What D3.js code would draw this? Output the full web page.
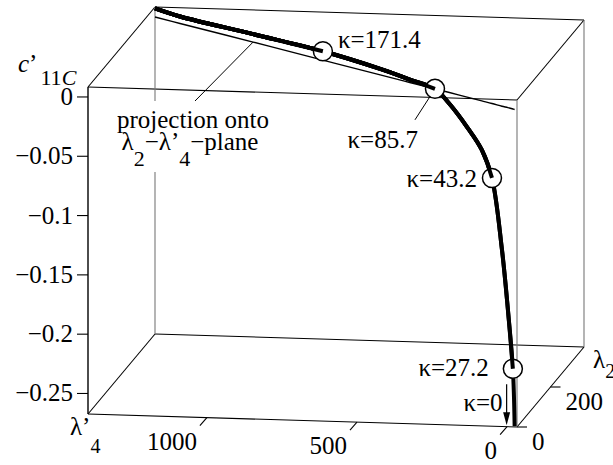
<!DOCTYPE html>
<html>
<head>
<meta charset="utf-8">
<script src="https://cdn.jsdelivr.net/npm/d3@7"></script>
<style>
  body { margin: 0; background: #fff; }
</style>
</head>
<body>
<div id="chart"></div>
<script>
// curve samples, from the top-left corner (large kappa) down to kappa = 0
const lam4 = [1396, 1297, 1009, 733, 507, 390, 291, 234, 164, 106, 66, 26, 3, -17, -24];
const lam2 = [400, 372, 292, 214, 151, 118, 91, 75, 55, 39, 28, 16, 10, 4, 2];
const c11C = [0.0072, 0.0059, 0.0067, 0.0075, 0.005, 0.0025, 0, -0.0095, -0.0252, -0.0413, -0.0628, -0.121, -0.170, -0.219, -0.267];

// marked points on the curve (index into the samples above), low kappa first
const markKappa = [27.2, 43.2, 85.7, 171.4];
const markIdx = [13, 10, 6, 3];
const planeC = 0; // projection onto the lambda2-lambda'4 plane at c'11C = 0

const cTicks = [0, -0.05, -0.1, -0.15, -0.2, -0.25];
const lam4Ticks = [1000, 500, 0];
const lam2Ticks = [0, 200];

const width = 613, height = 465;
const fs = 25;
const svg = d3.select('#chart').append('svg')
    .attr('width', width)
    .attr('height', height)
    .attr('font-family', 'Liberation Serif, Times New Roman, Times, DejaVu Serif, serif');

/* box ranges, mapped to 0..1 */
const uScale = d3.scaleLinear().domain([1396, -33]).range([0, 1]);
const vScale = d3.scaleLinear().domain([0, 400]).range([0, 1]);
const wScale = d3.scaleLinear().domain([-0.2673, 0.0084]).range([0, 1]);

/* oblique view of the box */
const O = [88, 414], EU = [429, 13], EV = [67, -80], EW = [0, -327];
function proj(l4, l2, c) {
    const u = uScale(l4), v = vScale(l2), w = wScale(c);
    return [O[0] + EU[0] * u + EV[0] * v + EW[0] * w,
            O[1] + EU[1] * u + EV[1] * v + EW[1] * w];
}
const D4 = uScale.domain(), D2 = vScale.domain(), DC = wScale.domain();
const corner = (a, b, c) => proj(D4[a], D2[b], DC[c]);

/* box edges */
const edges = [
    [[0,0,0],[1,0,0],'#000'], [[0,0,1],[1,0,1],'#000'],
    [[0,1,0],[1,1,0],'#000'], [[0,1,1],[1,1,1],'#000'],
    [[0,0,0],[0,1,0],'#000'], [[0,0,1],[0,1,1],'#000'],
    [[1,0,0],[1,1,0],'#000'], [[1,0,1],[1,1,1],'#000'],
    [[0,0,0],[0,0,1],'#000'], [[1,0,0],[1,0,1],'#777'],
    [[0,1,0],[0,1,1],'#777'], [[1,1,0],[1,1,1],'#777']
];
svg.append('g').selectAll('line')
    .data(edges)
    .join('line')
    .attr('x1', d => corner(...d[0])[0])
    .attr('y1', d => corner(...d[0])[1])
    .attr('x2', d => corner(...d[1])[0])
    .attr('y2', d => corner(...d[1])[1])
    .attr('stroke', d => d[2])
    .attr('stroke-width', (d, i) => i === 8 ? 1.4 : 1.1);

/* c'11C ticks on the front-left edge */
const gc = svg.append('g');
cTicks.forEach(t => {
    const p = proj(D4[0], D2[0], t);
    gc.append('line')
        .attr('x1', p[0] - 11).attr('y1', p[1])
        .attr('x2', p[0]).attr('y2', p[1])
        .attr('stroke', '#000').attr('stroke-width', 1.1);
    gc.append('text')
        .attr('x', p[0] - 15).attr('y', p[1] + 8)
        .attr('text-anchor', 'end')
        .attr('font-size', fs)
        .text(t === 0 ? '0' : d3.format('')(t).replace('-', '\u2212'));
});

/* lambda'4 ticks on the front-bottom edge */
const g4 = svg.append('g');
lam4Ticks.forEach(t => {
    const p = proj(t, D2[0], DC[0]);
    g4.append('line')
        .attr('x1', p[0]).attr('y1', p[1])
        .attr('x2', p[0] - 7).attr('y2', p[1] + 8)
        .attr('stroke', '#000').attr('stroke-width', 1.1);
    g4.append('text')
        .attr('x', p[0] - 10).attr('y', p[1] + 32)
        .attr('text-anchor', 'end')
        .attr('font-size', fs)
        .text(t);
});

/* lambda2 ticks on the right-bottom depth edge */
const g2 = svg.append('g');
lam2Ticks.forEach(t => {
    const p = proj(D4[1], t, DC[0]);
    g2.append('line')
        .attr('x1', p[0]).attr('y1', p[1])
        .attr('x2', p[0] + 10).attr('y2', p[1])
        .attr('stroke', '#000').attr('stroke-width', 1.1);
    g2.append('text')
        .attr('x', p[0] + 15).attr('y', p[1] + 23)
        .attr('font-size', fs)
        .text(t);
});

/* axis titles */
const tc = svg.append('text').attr('x', 18).attr('y', 72).attr('font-size', fs);
tc.append('tspan').attr('font-style', 'italic').text('c');
tc.append('tspan').text('\u2019');
tc.append('tspan').attr('dx', 3).attr('dy', 13).attr('font-size', 22).text('11');
tc.append('tspan').attr('font-style', 'italic').attr('font-size', 22).text('C');

const t4 = svg.append('text').attr('x', 70).attr('y', 435).attr('font-size', fs);
t4.append('tspan').text('\u03bb\u2019');
t4.append('tspan').attr('dy', 18).attr('font-size', 20).text('4');

const t2 = svg.append('text').attr('x', 593).attr('y', 368).attr('font-size', fs);
t2.append('tspan').text('\u03bb');
t2.append('tspan').attr('dy', 10).attr('font-size', 20).text('2');

/* projection annotation */
svg.append('rect')
    .attr('x', 112).attr('y', 101)
    .attr('width', 168).attr('height', 71)
    .attr('fill', '#fff');
svg.append('text')
    .attr('x', 193).attr('y', 128)
    .attr('text-anchor', 'middle')
    .attr('font-size', fs)
    .text('projection onto');
const tp = svg.append('text')
    .attr('x', 190).attr('y', 150)
    .attr('text-anchor', 'middle')
    .attr('font-size', fs);
tp.append('tspan').text('\u03bb');
tp.append('tspan').attr('dy', 16).attr('font-size', 22).text('2');
tp.append('tspan').attr('dy', -16).text('\u2212\u03bb\u2019');
tp.append('tspan').attr('dy', 16).attr('font-size', 22).text('4');
tp.append('tspan').attr('dy', -16).text('\u2212plane');

const pts = lam4.map((d, i) => ({ l4: d, l2: lam2[i], c: c11C[i] }));
const line3 = d3.line().curve(d3.curveCatmullRom.alpha(0.5));

/* projection line */
const projPts = pts.map(d => proj(d.l4, d.l2, planeC));
svg.append('path')
    .attr('d', line3(projPts))
    .attr('fill', 'none')
    .attr('stroke', '#000')
    .attr('stroke-width', 1.4);
// leader from the text to the projection line
const leadAt = proj(1009, 292, planeC);
svg.append('line')
    .attr('x1', 195).attr('y1', 101)
    .attr('x2', leadAt[0]).attr('y2', leadAt[1])
    .attr('stroke', '#000').attr('stroke-width', 1);

/* the curve with marked points; each circle covers the part below it */
const scr = pts.map(d => proj(d.l4, d.l2, d.c));
const drawCurve = (from) => svg.append('path')
    .attr('d', line3(scr.slice(0, from + 1)))
    .attr('fill', 'none')
    .attr('stroke', '#000')
    .attr('stroke-width', 4)
    .attr('stroke-linejoin', 'round');

drawCurve(scr.length - 1);

// label offsets relative to each circle
const labelPos = [
    { dx: -24, dy: 7, anchor: 'end' },
    { dx: -15, dy: 9, anchor: 'end' },
    { dx: -17, dy: 59, anchor: 'end' },
    { dx: 15, dy: -3, anchor: 'start' }
];
markIdx.forEach((idx, k) => {
    const p = scr[idx];
    if (markKappa[k] === 85.7) {
        svg.append('line')
            .attr('x1', p[0] - 20).attr('y1', p[1] + 31)
            .attr('x2', p[0]).attr('y2', p[1])
            .attr('stroke', '#000').attr('stroke-width', 1);
    }
    svg.append('circle')
        .attr('cx', p[0]).attr('cy', p[1])
        .attr('r', 9.5)
        .attr('fill', '#fff')
        .attr('stroke', '#000')
        .attr('stroke-width', 1.5);
    drawCurve(idx);
    svg.append('text')
        .attr('x', p[0] + labelPos[k].dx)
        .attr('y', p[1] + labelPos[k].dy)
        .attr('text-anchor', labelPos[k].anchor)
        .attr('font-size', fs)
        .text('\u03ba=' + markKappa[k]);
});

/* kappa = 0 arrow */
const p0 = scr[scr.length - 1];
svg.append('line')
    .attr('x1', p0[0] - 8).attr('y1', p0[1] - 42)
    .attr('x2', p0[0] - 8).attr('y2', p0[1] - 12)
    .attr('stroke', '#000').attr('stroke-width', 1.2);
svg.append('path')
    .attr('d', `M${p0[0] - 11.5},${p0[1] - 14}L${p0[0] - 4.5},${p0[1] - 14}L${p0[0] - 8},${p0[1] - 1}Z`)
    .attr('fill', '#000');
svg.append('text')
    .attr('x', p0[0] - 12).attr('y', p0[1] - 15)
    .attr('text-anchor', 'end')
    .attr('font-size', fs)
    .text('\u03ba=0');
</script>
</body>
</html>
